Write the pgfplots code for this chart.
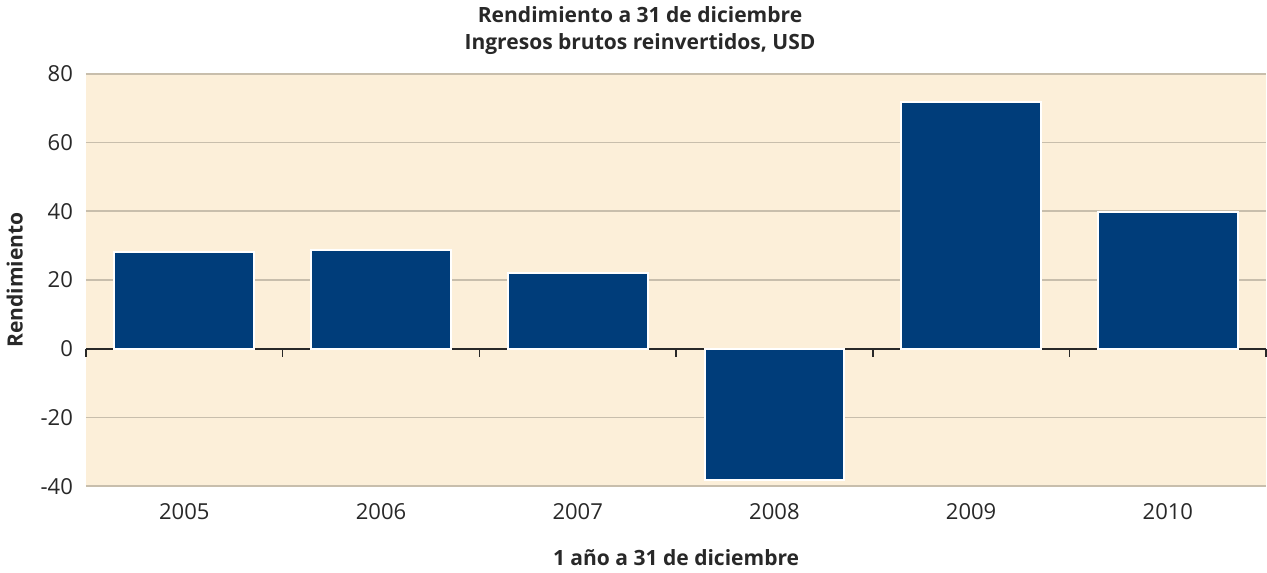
\documentclass[border=0pt]{standalone}
\usepackage{fontspec}
\setmainfont{Open Sans}
\usepackage{pgfplots}
\pgfplotsset{compat=1.18}

\definecolor{barblue}{RGB}{0,61,122}
\definecolor{bgcream}{RGB}{252,239,217}
\definecolor{gridtan}{RGB}{200,190,172}
\definecolor{txt}{RGB}{40,40,40}

\begin{document}
\begin{tikzpicture}
  \begin{axis}[
      scale only axis,
      width=589.5pt, height=206pt,
      xmin=-0.5, xmax=5.5,
      ymin=-40, ymax=80,
      ytick={-40,-20,0,20,40,60,80},
      xtick={0,1,2,3,4,5},
      xticklabels={2005,2006,2007,2008,2009,2010},
      major tick length=0pt,
      axis line style={draw=none},
      axis background/.style={fill=bgcream},
      ymajorgrids,
      grid style={gridtan, line width=0.8pt},
      tick label style={font=\fontsize{11}{13}\selectfont, text=txt},
      /pgf/number format/assume math mode=true,
      yticklabel style={xshift=-3pt},
      xticklabel style={yshift=-5pt},
      title={\textbf{Rendimiento a 31 de diciembre}\\\textbf{Ingresos brutos reinvertidos, USD}},
      title style={font=\fontsize{10.5}{13.5}\selectfont, align=center, text=txt,
                   xshift=-18pt, yshift=0pt},
      xlabel={\textbf{1 año a 31 de diciembre}},
      ylabel={\textbf{Rendimiento}},
      label style={font=\fontsize{10.5}{13}\selectfont, text=txt},
      xlabel style={yshift=-8pt},
      ylabel style={yshift=2pt},
      clip=false,
    ]
    \draw[txt, line width=0.8pt] (axis cs:-0.5,0) -- (axis cs:5.5,0);
    \pgfplotsinvokeforeach{0,1,2,3,4,5,6}{
      \draw[txt, line width=0.8pt] (axis cs:#1-0.5,0) -- ++(0pt,-4pt);
    }
    \addplot[ybar, bar width=0.71, fill=barblue, draw=white, line width=1pt]
      coordinates {(0,28.2) (1,28.8) (2,22.1) (3,-38.1) (4,71.9) (5,39.9)};
  \end{axis}
\end{tikzpicture}
\end{document}
